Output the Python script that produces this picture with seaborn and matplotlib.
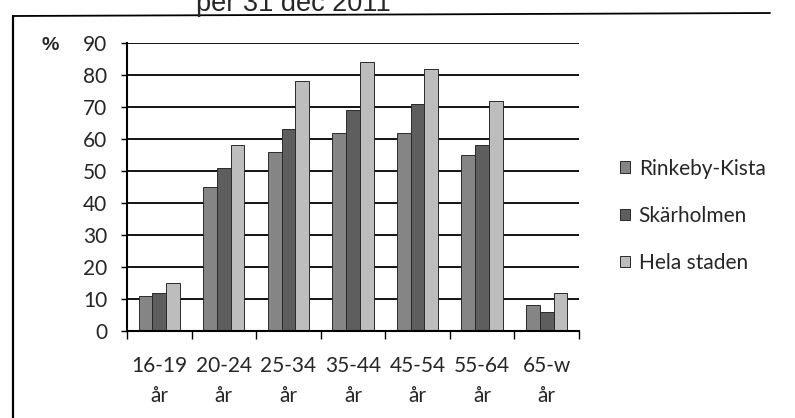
import pandas as pd
import numpy as np
import matplotlib
matplotlib.use("Agg")
import matplotlib.pyplot as plt
import seaborn as sns
from matplotlib.lines import Line2D

# data
age_groups = ["16-19\når", "20-24\når", "25-34\når", "35-44\når", "45-54\når", "55-64\når", "65-w\når"]
rinkeby = [11, 45, 56, 62, 62, 55, 8]
skarholmen = [12, 51, 63, 69, 71, 58, 6]
hela_staden = [15, 58, 78, 84, 82, 72, 12]
series_names = ["Rinkeby-Kista", "Skärholmen", "Hela staden"]
yticks = [0, 10, 20, 30, 40, 50, 60, 70, 80, 90]

df = pd.DataFrame({
    "age": age_groups * 3,
    "area": np.repeat(series_names, len(age_groups)),
    "pct": rinkeby + skarholmen + hela_staden,
})

sns.set_style("white")
plt.rcParams["font.family"] = ["Lato", "DejaVu Sans"]

fig = plt.figure(figsize=(7.95, 4.18), dpi=100)
ax = fig.add_axes([0.1597, 0.208, 0.5686, 0.689])

palette = ["#858585", "#5e5e5e", "#bdbdbd"]
sns.barplot(data=df, x="age", y="pct", hue="area", palette=palette,
            width=0.64, ax=ax, edgecolor="#2a2a2a", linewidth=0.7, saturation=1)

ax.set_ylim(0, 90)
ax.set_xlim(-0.5, len(age_groups) - 0.5)
ax.set_yticks(yticks)
ax.yaxis.grid(True, color="black", linewidth=1.3)
ax.set_axisbelow(True)
ax.set_xlabel("")
ax.set_ylabel("")

for s in ["right", "top"]:
    ax.spines[s].set_visible(False)
ax.spines["left"].set_color("black")
ax.spines["left"].set_linewidth(1.5)
ax.spines["bottom"].set_color("black")
ax.spines["bottom"].set_linewidth(1.5)

ax.tick_params(axis="y", length=4, width=1, color="black", pad=10, labelsize=15, left=True)
ax.tick_params(axis="x", which="major", length=0, pad=18, labelsize=15)
ax.set_xticks(np.arange(-0.5, len(age_groups)), minor=True)
ax.tick_params(axis="x", which="minor", length=6, width=1, color="black", bottom=True)
for lab in ax.get_xticklabels():
    lab.set_linespacing(1.65)

ax.legend(loc="center left", bbox_to_anchor=(1.049, 0.40), frameon=False,
          fontsize=15, handlelength=0.5, handleheight=0.5, handletextpad=0.4,
          labelspacing=1.3)

ax.text(-0.17, 0.99, "%", transform=ax.transAxes, fontsize=14, fontweight="bold",
        family="Liberation Sans", ha="center", va="center")

# outer frame and cut off title from the scan
fig.add_artist(Line2D([13 / 795, 13 / 795], [0, 1 - 16 / 418], color="black", lw=1.6))
fig.add_artist(Line2D([13 / 795, 770 / 795], [1 - 16 / 418, 1 - 13 / 418], color="black", lw=1.3))
fig.text(196 / 795, 1 - 11 / 418, "per 31 dec 2011", fontsize=19.5, family="Liberation Sans",
         ha="left", va="baseline")

fig.savefig("out.png", dpi=100, facecolor="white")
